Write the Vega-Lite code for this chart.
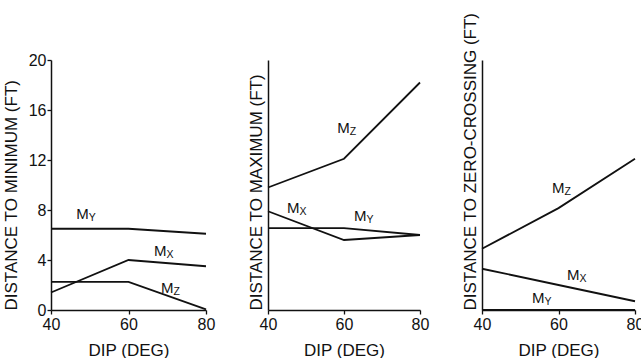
{
  "$schema": "https://vega.github.io/schema/vega-lite/v6.json",
  "background": "white",
  "padding": {"left": 2, "top": 12, "right": 0, "bottom": 0},
  "bounds": "flush",
  "spacing": 62,
  "config": {
    "view": {"stroke": null},
    "font": "Liberation Sans",
    "axis": {
      "grid": false,
      "domainColor": "#111",
      "domainWidth": 1.5,
      "tickColor": "#111",
      "tickWidth": 1.3,
      "labelColor": "#111",
      "titleColor": "#111",
      "labelFont": "Liberation Sans",
      "titleFont": "Liberation Sans",
      "labelFontSize": 16,
      "titleFontSize": 17,
      "titleFontWeight": "normal",
      "labelFlush": false,
      "labelOverlap": false
    },
    "axisX": {"tickSize": 4, "labelPadding": 2, "titlePadding": 10},
    "line": {"stroke": "#111", "strokeWidth": 1.8},
    "text": {"fill": "#111", "font": "Liberation Sans"}
  },
  "datasets": {
    "lines": [
      {"panel": 1, "series": "MY", "dip": 40, "dist": 6.5},
      {"panel": 1, "series": "MY", "dip": 60, "dist": 6.5},
      {"panel": 1, "series": "MY", "dip": 80, "dist": 6.1},
      {"panel": 1, "series": "MX", "dip": 40, "dist": 1.4},
      {"panel": 1, "series": "MX", "dip": 60, "dist": 4.0},
      {"panel": 1, "series": "MX", "dip": 80, "dist": 3.5},
      {"panel": 1, "series": "MZ", "dip": 40, "dist": 2.25},
      {"panel": 1, "series": "MZ", "dip": 60, "dist": 2.25},
      {"panel": 1, "series": "MZ", "dip": 80, "dist": 0.05},
      {"panel": 2, "series": "MZ", "dip": 40, "dist": 9.8},
      {"panel": 2, "series": "MZ", "dip": 60, "dist": 12.1},
      {"panel": 2, "series": "MZ", "dip": 80, "dist": 18.2},
      {"panel": 2, "series": "MX", "dip": 40, "dist": 7.9},
      {"panel": 2, "series": "MX", "dip": 60, "dist": 5.6},
      {"panel": 2, "series": "MX", "dip": 80, "dist": 6.0},
      {"panel": 2, "series": "MY", "dip": 40, "dist": 6.55},
      {"panel": 2, "series": "MY", "dip": 60, "dist": 6.55},
      {"panel": 2, "series": "MY", "dip": 80, "dist": 6.0},
      {"panel": 3, "series": "MZ", "dip": 40, "dist": 4.9},
      {"panel": 3, "series": "MZ", "dip": 60, "dist": 8.15},
      {"panel": 3, "series": "MZ", "dip": 80, "dist": 12.1},
      {"panel": 3, "series": "MX", "dip": 40, "dist": 3.3},
      {"panel": 3, "series": "MX", "dip": 60, "dist": 2.0},
      {"panel": 3, "series": "MX", "dip": 80, "dist": 0.7},
      {"panel": 3, "series": "MY", "dip": 40, "dist": 0},
      {"panel": 3, "series": "MY", "dip": 60, "dist": 0},
      {"panel": 3, "series": "MY", "dip": 80, "dist": 0}
    ],
    "labels": [
      {"panel": 1, "sub": "Y", "dip": 46.5, "dist": 7.3},
      {"panel": 1, "sub": "X", "dip": 66.6, "dist": 4.3},
      {"panel": 1, "sub": "Z", "dip": 68.4, "dist": 1.35},
      {"panel": 2, "sub": "Z", "dip": 58.2, "dist": 14.2},
      {"panel": 2, "sub": "X", "dip": 45.0, "dist": 7.8},
      {"panel": 2, "sub": "Y", "dip": 62.6, "dist": 7.1},
      {"panel": 3, "sub": "Z", "dip": 58.3, "dist": 9.4},
      {"panel": 3, "sub": "X", "dip": 62.2, "dist": 2.4},
      {"panel": 3, "sub": "Y", "dip": 53.1, "dist": 0.55}
    ]
  },
  "hconcat": [
    {
      "width": 155,
      "height": 250,
      "layer": [
        {
          "data": {"name": "lines"},
          "transform": [{"filter": "datum.panel === 1"}],
          "mark": {"type": "line"},
          "encoding": {
            "x": {"field": "dip", "type": "quantitative", "scale": {"domain": [40, 80], "nice": false, "zero": false},
                  "axis": {"values": [40, 60, 80], "title": "DIP (DEG)"}},
            "y": {"field": "dist", "type": "quantitative", "scale": {"domain": [0, 20], "nice": false},
                  "axis": {"values": [0, 2, 4, 6, 8, 10, 12, 14, 16, 18, 20],
                           "tickSize": {"condition": {"test": "datum.value % 4 === 0", "value": 4}, "value": -3},
                           "labelExpr": "datum.value % 4 === 0 ? datum.label : ''",
                           "labelPadding": 1, "titlePadding": 8,
                           "titleAnchor": "start", "title": "DISTANCE TO MINIMUM (FT)"}},
            "detail": {"field": "series"}
          }
        },
        {
          "data": {"name": "labels"},
          "transform": [{"filter": "datum.panel === 1"}],
          "mark": {"type": "text", "text": "M", "align": "left", "baseline": "alphabetic", "fontSize": 15},
          "encoding": {
            "x": {"field": "dip", "type": "quantitative"},
            "y": {"field": "dist", "type": "quantitative"}
          }
        },
        {
          "data": {"name": "labels"},
          "transform": [{"filter": "datum.panel === 1"}],
          "mark": {"type": "text", "align": "left", "baseline": "alphabetic", "fontSize": 10.5, "dx": 12.5, "dy": 2},
          "encoding": {
            "x": {"field": "dip", "type": "quantitative"},
            "y": {"field": "dist", "type": "quantitative"},
            "text": {"field": "sub"}
          }
        }
      ]
    },
    {
      "width": 152,
      "height": 250,
      "layer": [
        {
          "data": {"name": "lines"},
          "transform": [{"filter": "datum.panel === 2"}],
          "mark": {"type": "line"},
          "encoding": {
            "x": {"field": "dip", "type": "quantitative", "scale": {"domain": [40, 80], "nice": false, "zero": false},
                  "axis": {"values": [40, 60, 80], "title": "DIP (DEG)"}},
            "y": {"field": "dist", "type": "quantitative", "scale": {"domain": [0, 20], "nice": false},
                  "axis": {"ticks": false, "labels": false, "titlePadding": 3, "titleAnchor": "start", "title": "DISTANCE TO MAXIMUM (FT)"}},
            "detail": {"field": "series"}
          }
        },
        {
          "data": {"name": "labels"},
          "transform": [{"filter": "datum.panel === 2"}],
          "mark": {"type": "text", "text": "M", "align": "left", "baseline": "alphabetic", "fontSize": 15},
          "encoding": {
            "x": {"field": "dip", "type": "quantitative"},
            "y": {"field": "dist", "type": "quantitative"}
          }
        },
        {
          "data": {"name": "labels"},
          "transform": [{"filter": "datum.panel === 2"}],
          "mark": {"type": "text", "align": "left", "baseline": "alphabetic", "fontSize": 10.5, "dx": 12.5, "dy": 2},
          "encoding": {
            "x": {"field": "dip", "type": "quantitative"},
            "y": {"field": "dist", "type": "quantitative"},
            "text": {"field": "sub"}
          }
        }
      ]
    },
    {
      "width": 153,
      "height": 250,
      "layer": [
        {
          "data": {"name": "lines"},
          "transform": [{"filter": "datum.panel === 3"}],
          "mark": {"type": "line"},
          "encoding": {
            "x": {"field": "dip", "type": "quantitative", "scale": {"domain": [40, 80], "nice": false, "zero": false},
                  "axis": {"values": [40, 60, 80], "title": "DIP (DEG)"}},
            "y": {"field": "dist", "type": "quantitative", "scale": {"domain": [0, 20], "nice": false},
                  "axis": {"ticks": false, "labels": false, "titlePadding": 3, "titleAnchor": "start", "title": "DISTANCE TO ZERO-CROSSING (FT)"}},
            "detail": {"field": "series"}
          }
        },
        {
          "data": {"name": "labels"},
          "transform": [{"filter": "datum.panel === 3"}],
          "mark": {"type": "text", "text": "M", "align": "left", "baseline": "alphabetic", "fontSize": 15},
          "encoding": {
            "x": {"field": "dip", "type": "quantitative"},
            "y": {"field": "dist", "type": "quantitative"}
          }
        },
        {
          "data": {"name": "labels"},
          "transform": [{"filter": "datum.panel === 3"}],
          "mark": {"type": "text", "align": "left", "baseline": "alphabetic", "fontSize": 10.5, "dx": 12.5, "dy": 2},
          "encoding": {
            "x": {"field": "dip", "type": "quantitative"},
            "y": {"field": "dist", "type": "quantitative"},
            "text": {"field": "sub"}
          }
        }
      ]
    }
  ]
}
